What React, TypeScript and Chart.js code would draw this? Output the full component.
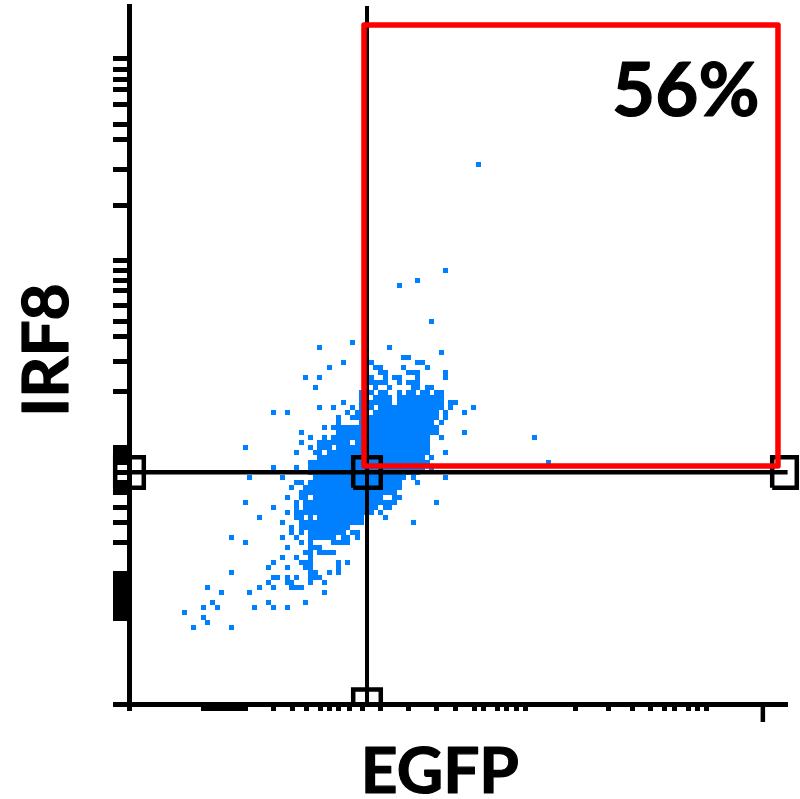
import { useEffect, useRef } from "react";
import { Chart, registerables } from "chart.js";

Chart.register(...registerables);

type Cell = number | [number, number];
type Row = [number, ...Cell[]];

// Density cells: [row, column or [first, last] run of columns...]
const cellRows: Row[] = [
  [107.6, 75], [86.4, 68], [84.4, 62], [83.4, 58], [76.2, 65],
  [72, 48], [71, 41, 56], [70, 67], [69, [59, 60]],
  [68, 46, 52, [62, 63]], [67, 43, [53, 54], 59, 64],
  [66, [54, 55], [60, 62], 68], [65, 38, 41, 52, 55, [57, 58], 62, 68],
  [64, [52, 55], 58, [60, 62]], [63, 40, 53, 56, [61, 62], [64, 65]],
  [62, 50, 52, [54, 55], 58, [60, 61], [63, 64], [66, 67]],
  [61, 50, [53, 56], [58, 67]], [60, 46, 50, [52, 56], [58, 67], [69, 70]],
  [59, 41, 44, 48, 50, 51, 52, [54, 67], 69, 74],
  [58, 31, 34, 47, [49, 51], [53, 66], 68, 72],
  [57, 45, [48, 66], 68], [56, 45, [50, 65], 67],
  [55, 42, [44, 66]], [54, 37, [45, 66], 72],
  [53, 39, 42, [44, 64], 67, 87], [52, 37, [41, 47], [49, 64]],
  [51, 25, 39, [41, 43], [45, 64]], [50, 36, [40, 41], [43, 64], 68],
  [49, [41, 63], 65], [48, [39, 64], 90], [47, 31, 36, [39, 63], 65],
  [46, [39, 62]], [45, 26, 33, [40, 59], 61, 68],
  [44, [36, 37], [39, 58], 62], [43, 35, [38, 58]], [42, [37, 57]],
  [41, 34, [37, 38], [40, 54], [57, 58]], [40, 25, 36, [38, 57], 66],
  [39, 31, 36, [38, 53], [55, 56]], [38, 34, [36, 52], 54],
  [37, 28, [36, 37], 39, [41, 50], 55], [36, 33, [37, 50], 61],
  [35, 35, [37, 47]], [34, 35, 37, [39, 46], [48, 49]],
  [33, 22, 33, 36, [39, 44], [46, 47], 49], [32, 25, 37, 39, [44, 47]],
  [31, 34, [39, 41]], [30, [38, 39], [41, 44]], [29, 33, 36, 39],
  [28, 31, 37, [38, 39], 45, 47], [27, 30, 34, [38, 39], 45],
  [26, 22, [39, 40], 43, 45], [25, [31, 32], 34, 36, [39, 41]],
  [24, 30, [34, 35], 39, 42], [23, 17, 28, 31, [35, 37]],
  [22, 20, 26, 42], [20, 18, 30, 38], [19, 16, 19, 27, 31, 34],
  [18, 12], [17, 16], [16, 17], [15, 14, 22],
];

const xRange = [0.186, 141.18];
const yRange = [-0.4, 139.3];

const xTickValues = [
  0.186, 16, 17, 18, 19, 20, 21, 22, 23, 24, 25, 31, 35.16, 38.16, 41.16, 43, 45, 47.43,
  50.07, 54, 59.9, 66, 70, 74.07, 76.08, 79.08, 81.07, 83.06, 85.08, 95.86, 102.87, 107.9,
  111.9, 114.9, 117, 120, 121.9, 123.9,
];
const yTickValues = [
  128.8, 126.66, 124.6, 122.6, 119.6, 115.6, 112.6, 106.6, 99.4, 88.4, 86.4, 84.4, 82.4,
  79.4, 76.2, 73.2, 68.2, 62.2, 51, 50, 49, 48, 46, 44, 43, 42, 39, 36, 32, 25.8, 24.8,
  23.8, 22.8, 21.8, 20.8, 19.8, 18.8, 17.8, 16.8, -0.4,
];
const majorTickX = 135.9;
const majorTickY = [-0.4, -3.9];

const gateX = [50.43, 139.14];
const gateY = [47.3, 135.5];
const crossX = 51.08;
const crossY = 46.04;
const crossEndX = 141.2;

const markerLeftX = [-2.88, 3.25];
const markerMidX = [48.12, 54.03];
const markerRightX = [137.9, 143.17];
const markerY = [42.96, 49.04];
const markerBottomTop = 2.6;

const xTitle = "EGFP";
const yTitle = "IRF8";
const gateLabel = "56%";
const xTitleAnchor = [66.7, -18.1];
const yTitleAnchor = [-12.95, 70.5];
const gateLabelAnchor = [135.2, 117.3];

const BLUE = "#0080FF";
const RED = "#FF0000";
const BLACK = "#000000";
const FONT = "Lato";

const cells = cellRows.flatMap(([row, ...runs]) =>
  runs.flatMap((run) => {
    const [a, b] = Array.isArray(run) ? run : [run, run];
    const out: { x: number; y: number }[] = [];
    for (let c = a; c <= b; c++) out.push({ x: c, y: row });
    return out;
  }),
);

const box = (xs: number[], ys: number[]) => [
  { x: xs[0], y: ys[0] },
  { x: xs[1], y: ys[0] },
  { x: xs[1], y: ys[1] },
  { x: xs[0], y: ys[1] },
  { x: xs[0], y: ys[0] },
];

const line = (data: { x: number; y: number }[], color: string, width: number, join = "miter") => ({
  type: "scatter" as const,
  data,
  showLine: true,
  pointRadius: 0,
  borderColor: color,
  borderWidth: width,
  borderJoinStyle: join,
  borderCapStyle: "butt",
  tension: 0,
  clip: false,
});

// The cytometry plot is a pixel density map, so the cells sit on whole pixels.
const snapCells = {
  id: "snapCells",
  afterDatasetsUpdate(chart: any) {
    const meta = chart.getDatasetMeta(chart.data.datasets.length - 1);
    for (const el of meta.data) {
      el.x = Math.floor(el.x) + 0.5;
      el.y = Math.floor(el.y) + 0.5;
    }
  },
};

const textPlugin = {
  id: "plotText",
  afterDatasetsDraw(chart: any) {
    const { ctx, scales } = chart;
    const px = (a: number[]) => [scales.x.getPixelForValue(a[0]), scales.y.getPixelForValue(a[1])];
    const put = (text: string, x: number, y: number) => {
      ctx.fillText(text, x, y);
      ctx.strokeText(text, x, y);
    };
    ctx.save();
    ctx.fillStyle = BLACK;
    ctx.strokeStyle = BLACK;
    ctx.lineWidth = 1.2;
    ctx.lineJoin = "round";
    ctx.textAlign = "center";
    ctx.textBaseline = "alphabetic";
    ctx.font = `bold 64px ${FONT}`;
    const [tx, ty] = px(xTitleAnchor);
    put(xTitle, tx, ty);
    const [ix, iy] = px(yTitleAnchor);
    ctx.save();
    ctx.translate(ix, iy);
    ctx.rotate(-Math.PI / 2);
    put(yTitle, 0, 0);
    ctx.restore();
    ctx.textAlign = "right";
    ctx.font = `bold 74.5px ${FONT}`;
    const [gx, gy] = px(gateLabelAnchor);
    put(gateLabel, gx, gy);
    ctx.restore();
  },
};

export default function App() {
  const ref = useRef<HTMLCanvasElement>(null);
  useEffect(() => {
    if (!ref.current) return;
    const chart = new Chart(ref.current, {
      type: "scatter",
      plugins: [snapCells, textPlugin],
      data: {
        datasets: [
          line(box(gateX, gateY), RED, 5.5, "round"),
          line(box(markerLeftX, markerY), BLACK, 4.5),
          line(box(markerMidX, markerY), BLACK, 4.5),
          line(box(markerRightX, markerY), BLACK, 4.5),
          line(
            [
              { x: markerMidX[0], y: yRange[0] },
              { x: markerMidX[0], y: markerBottomTop },
              { x: markerMidX[1], y: markerBottomTop },
              { x: markerMidX[1], y: yRange[0] },
            ],
            BLACK,
            4.5,
          ),
          line([{ x: crossX, y: yRange[1] }, { x: crossX, y: yRange[0] }], BLACK, 4),
          line([{ x: xRange[0], y: crossY }, { x: crossEndX, y: crossY }], BLACK, 4.5),
          line([{ x: majorTickX, y: majorTickY[0] }, { x: majorTickX, y: majorTickY[1] }], BLACK, 4.5),
          {
            data: cells,
            pointStyle: "rect",
            pointRadius: 5 / Math.SQRT2,
            pointBorderWidth: 0,
            backgroundColor: BLUE,
            pointBackgroundColor: BLUE,
          },
        ],
      } as any,
      options: {
        responsive: false,
        animation: false,
        events: [],
        layout: { padding: { top: 6, right: 12.5, left: 0, bottom: 0 } },
        plugins: { legend: { display: false }, tooltip: { enabled: false }, title: { display: false } },
        scales: {
          x: {
            type: "linear",
            min: xRange[0],
            max: xRange[1],
            afterFit: (s: any) => {
              s.height = 94.5;
            },
            afterBuildTicks: (s: any) => {
              s.ticks = xTickValues.map((value) => ({ value }));
            },
            ticks: { display: false, autoSkip: false },
            border: { display: true, width: 5, color: BLACK },
            grid: { drawOnChartArea: false, drawTicks: true, tickLength: 6.5, tickWidth: 5, tickColor: BLACK },
          },
          y: {
            type: "linear",
            min: yRange[0],
            max: yRange[1],
            afterFit: (s: any) => {
              s.width = 129.5;
            },
            afterBuildTicks: (s: any) => {
              s.ticks = yTickValues.map((value) => ({ value }));
            },
            ticks: { display: false, autoSkip: false },
            border: { display: true, width: 5, color: BLACK },
            grid: { drawOnChartArea: false, drawTicks: true, tickLength: 16.5, tickWidth: 5, tickColor: BLACK },
          },
        },
      } as any,
    });
    return () => chart.destroy();
  }, []);
  return (
    <canvas
      ref={ref}
      width={800}
      height={799}
      style={{ position: "fixed", left: 0, top: 0, width: 800, height: 799, display: "block", background: "#fff" }}
    />
  );
}
